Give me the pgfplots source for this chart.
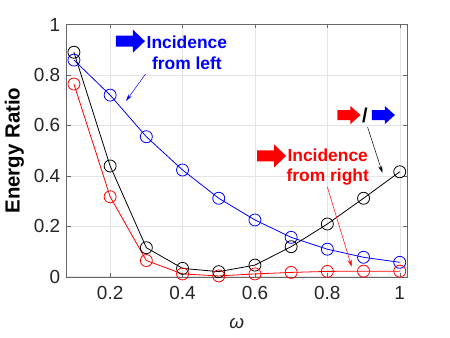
\documentclass[border=0pt]{standalone}
\usepackage{pgfplots}
\pgfplotsset{compat=1.18}
\usepackage{fontspec}
\setmainfont{Liberation Sans}
\usetikzlibrary{arrows.meta}
\definecolor{axgray}{RGB}{38,38,38}
\definecolor{gridgray}{RGB}{228,228,228}

% fat annotation arrows, left tip at axis point #2
\newcommand{\bigarrow}[2]{\fill[#1] (axis cs:#2) ++(0bp,5.5bp) -- ++(17bp,0bp) -- ++(0bp,6bp) -- ++(12bp,-11.5bp) -- ++(-12bp,-11.5bp) -- ++(0bp,6bp) -- ++(-17bp,0bp) -- cycle;}
\newcommand{\smallarrow}[2]{\fill[#1] (axis cs:#2) ++(0bp,5bp) -- ++(13bp,0bp) -- ++(0bp,4bp) -- ++(10bp,-9bp) -- ++(-10bp,-9bp) -- ++(0bp,4bp) -- ++(-13bp,0bp) -- cycle;}

\begin{document}
\begin{tikzpicture}
\useasboundingbox (-66.7bp,-61.3bp) rectangle (383.3bp,276.7bp);
\begin{axis}[
    at={(0,0)}, anchor=south west,
    scale only axis, width=340.3bp, height=252.2bp,
    xmin=0.08, xmax=1.02, ymin=0, ymax=1,
    xtick={0.2,0.4,...,1.0}, ytick={0,0.2,...,1.0},
    xticklabels={0.2,0.4,0.6,0.8,1}, yticklabels={0,0.2,0.4,0.6,0.8,1},
    tick align=inside, major tick length=4bp,
    axis line style={axgray!70}, tick style={axgray!70},
    grid=major, major grid style={gridgray, line width=0.5bp},
    ticklabel style={font=\fontsize{19}{19}\selectfont, text=axgray},
    xticklabel style={yshift=-6bp},
    yticklabel style={xshift=-3bp},
    /pgf/number format/assume math mode=true,
    xlabel={\itshape ω}, xlabel style={font=\fontsize{19}{19}\selectfont, text=axgray, yshift=-12bp},
    ylabel={Energy Ratio}, ylabel style={font=\bfseries\fontsize{20.5}{20.5}\selectfont, yshift=3bp},
    clip=false,
    every axis plot/.append style={line width=0.8bp, mark=o, mark size=6bp, mark options={line width=0.8bp}},
]
\addplot[blue] coordinates {(0.1,0.859) (0.2,0.720) (0.3,0.555) (0.4,0.423) (0.5,0.311) (0.6,0.225) (0.7,0.156) (0.8,0.109) (0.9,0.077) (1.0,0.057)};
\addplot[black] coordinates {(0.1,0.890) (0.2,0.439) (0.3,0.115) (0.4,0.033) (0.5,0.020) (0.6,0.046) (0.7,0.119) (0.8,0.209) (0.9,0.311) (1.0,0.416)};
\addplot[red] coordinates {(0.1,0.764) (0.2,0.317) (0.3,0.064) (0.4,0.011) (0.5,0.003) (0.6,0.011) (0.7,0.017) (0.8,0.021) (0.9,0.022) (1.0,0.022)};

\bigarrow{blue}{0.216,0.934}
\node[blue, font=\bfseries\fontsize{17.5}{20.3}\selectfont, align=center] at (axis cs:0.412,0.888) {Incidence\\from left};
\draw[blue, line width=0.5bp, -{Stealth[length=7bp,width=4bp]}] (axis cs:0.298,0.804) -- (axis cs:0.244,0.697);

\smallarrow{red}{0.828,0.641}
\node[font=\bfseries\fontsize{20}{20}\selectfont] at (axis cs:0.904,0.641) {/};
\smallarrow{blue}{0.923,0.641}
\draw[black, line width=0.5bp, -{Stealth[length=7bp,width=4bp]}] (axis cs:0.911,0.594) -- (axis cs:0.952,0.412);

\bigarrow{red}{0.606,0.479}
\node[red, font=\bfseries\fontsize{17.5}{20.3}\selectfont, align=center] at (axis cs:0.801,0.434) {Incidence\\from right};
\draw[red, line width=0.5bp, -{Stealth[length=7bp,width=4bp]}] (axis cs:0.800,0.356) -- (axis cs:0.867,0.040);
\end{axis}
\end{tikzpicture}
\end{document}
